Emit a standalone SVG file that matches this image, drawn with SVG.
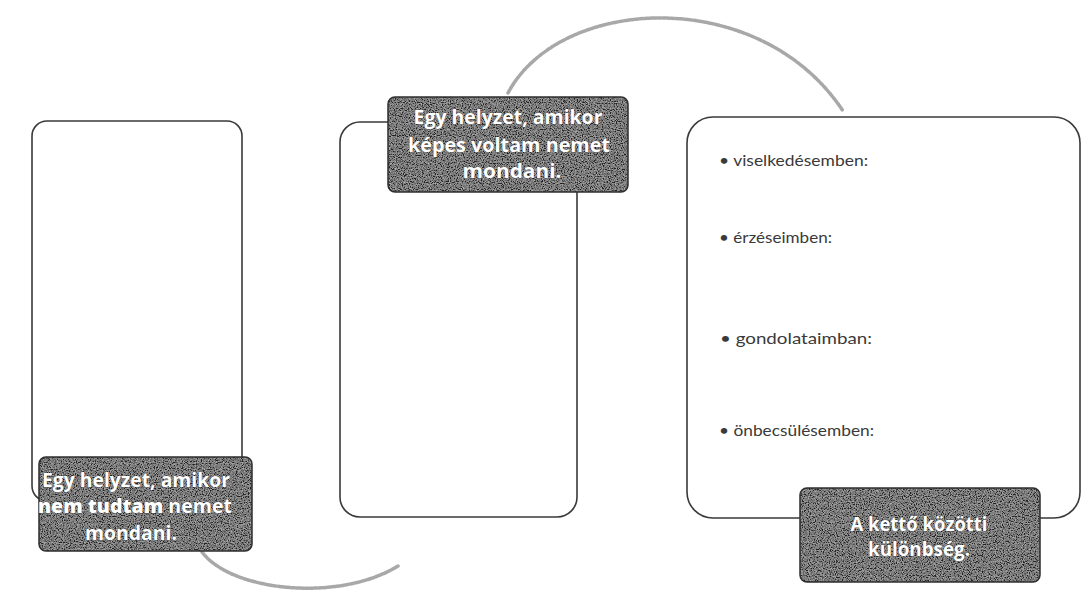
<svg xmlns="http://www.w3.org/2000/svg" width="1083" height="596" viewBox="0 0 1083 596">
<style>
.box{fill:#fff;stroke:#3a3a3a;stroke-width:1.6}
.base{fill:#4d4d4d}
.edge{fill:none;stroke:#2e2e2e;stroke-width:1.5}
.ltxt{font-family:"Open Sans","DejaVu Sans",sans-serif;font-weight:700;font-size:20px;fill:#fff;text-anchor:middle;stroke:#222;stroke-width:0.4;paint-order:stroke}
.btxt{font-family:Lato,"Open Sans",sans-serif;font-size:16px;fill:#3a3a3a}
.arc{fill:none;stroke:#a8a8a8;stroke-width:3.5;stroke-dasharray:3 1.5;stroke-linecap:round}
</style>
<defs>
<filter id="grain" x="0" y="0" width="100%" height="100%">
<feTurbulence type="fractalNoise" baseFrequency="0.85" numOctaves="2" seed="7" result="n"/>
<feColorMatrix in="n" type="matrix" values="2.2 0 0 0 -0.75  2.2 0 0 0 -0.75  2.2 0 0 0 -0.75  0 0 0 0 1" result="g"/>
<feComposite in="g" in2="SourceGraphic" operator="in"/>
</filter>
</defs>
<rect width="1083" height="596" fill="#fff"/>
<g id="connectors">
<path class="arc" d="M508,93 C560,-5 760,-15 843,111"/>
<path class="arc" d="M202,552 C232,592 340,602 398,566"/>
</g>
<g id="node1">
<rect class="box" x="32" y="121" width="210" height="380" rx="15"/>
<rect class="base" x="39" y="457" width="213" height="94" rx="7"/>
<rect x="39" y="457" width="213" height="94" rx="7" fill="#555" filter="url(#grain)" opacity="0.55"/>
<rect class="edge" x="39" y="457" width="213" height="94" rx="7"/>
<text class="ltxt" x="136" y="487" textLength="188" lengthAdjust="spacingAndGlyphs">Egy helyzet, amikor</text>
<text class="ltxt" x="135" y="513" textLength="194" lengthAdjust="spacingAndGlyphs"><tspan font-weight="800">nem tudtam</tspan> nemet</text>
<text class="ltxt" x="131" y="540" textLength="92" lengthAdjust="spacingAndGlyphs">mondani.</text>
</g>
<g id="node2">
<rect class="box" x="340" y="122" width="237" height="395" rx="20"/>
<rect class="base" x="388" y="97" width="240" height="95" rx="7"/>
<rect x="388" y="97" width="240" height="95" rx="7" fill="#555" filter="url(#grain)" opacity="0.55"/>
<rect class="edge" x="388" y="97" width="240" height="95" rx="7"/>
<text class="ltxt" x="508" y="124" textLength="189" lengthAdjust="spacingAndGlyphs">Egy helyzet, amikor</text>
<text class="ltxt" x="509" y="152" textLength="202" lengthAdjust="spacingAndGlyphs">képes voltam nemet</text>
<text class="ltxt" x="512" y="178" textLength="99" lengthAdjust="spacingAndGlyphs">mondani.</text>
</g>
<g id="node3">
<rect class="box" x="687" y="117" width="393" height="401" rx="26"/>
<text class="btxt" x="719" y="166" textLength="149" lengthAdjust="spacingAndGlyphs">• viselkedésemben:</text>
<text class="btxt" x="719" y="243" textLength="113" lengthAdjust="spacingAndGlyphs">• érzéseimben:</text>
<text class="btxt" x="720" y="344" textLength="152" lengthAdjust="spacingAndGlyphs">•  gondolataimban:</text>
<text class="btxt" x="719" y="436" textLength="155" lengthAdjust="spacingAndGlyphs">• önbecsülésemben:</text>
<rect class="base" x="800" y="488" width="240" height="94" rx="7"/>
<rect x="800" y="488" width="240" height="94" rx="7" fill="#555" filter="url(#grain)" opacity="0.55"/>
<rect class="edge" x="800" y="488" width="240" height="94" rx="7"/>
<text class="ltxt" x="919" y="531" font-size="18" textLength="137" lengthAdjust="spacingAndGlyphs">A kettő közötti</text>
<text class="ltxt" x="919" y="556" font-size="18" textLength="102" lengthAdjust="spacingAndGlyphs">különbség.</text>
</g>
</svg>
